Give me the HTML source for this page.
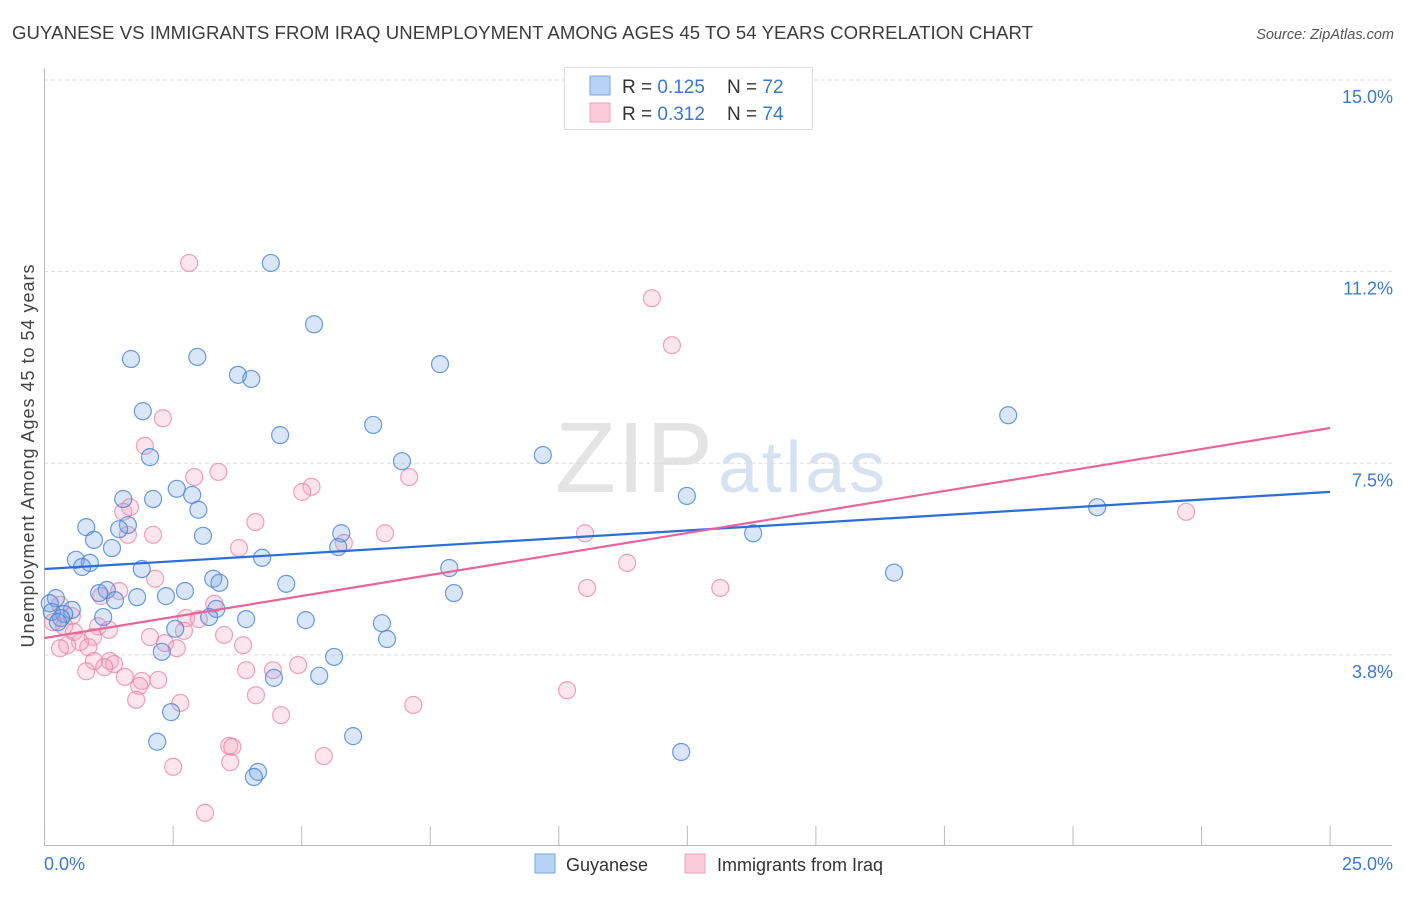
<!DOCTYPE html>
<html><head><meta charset="utf-8"><style>
body{margin:0;background:#fff;font-family:"Liberation Sans",sans-serif;}
svg text{font-family:"Liberation Sans",sans-serif;}
</style></head><body>
<svg id="c" width="1406" height="892">
<text x="12" y="39" font-size="18.6" fill="#3c3c3c" textLength="1021">GUYANESE VS IMMIGRANTS FROM IRAQ UNEMPLOYMENT AMONG AGES 45 TO 54 YEARS CORRELATION CHART</text>
<text x="1394" y="39" font-size="14.5" fill="#555" font-style="italic" text-anchor="end">Source: ZipAtlas.com</text>
<text x="555" y="492" font-size="100" fill="#e4e4e4" font-family="Liberation Serif" textLength="158">ZIP</text>
<text x="718" y="492" font-size="72" fill="#d6e2f2" textLength="167">atlas</text>
<g id="grid"></g>
<g id="axes"></g>
<g id="pts"></g>
<g id="trends"></g>
<text transform="translate(34,456) rotate(-90)" font-size="18" fill="#444" text-anchor="middle" textLength="383">Unemployment Among Ages 45 to 54 years</text>
<g>
<rect x="564.5" y="67.5" width="248" height="62" fill="#fff" stroke="#ddd"/>
<rect x="590" y="76" width="20" height="19" fill="#b8d3f5" stroke="#7aa6e0"/>
<rect x="590" y="103" width="20" height="19" fill="#fccbd8" stroke="#f0a0bb"/>
<text x="622" y="93" font-size="19" fill="#333">R = <tspan fill="#3a78d6">0.125</tspan></text>
<text x="727" y="93" font-size="19" fill="#333">N = <tspan fill="#3a78d6">72</tspan></text>
<text x="622" y="120" font-size="19" fill="#333">R = <tspan fill="#3a78d6">0.312</tspan></text>
<text x="727" y="120" font-size="19" fill="#333">N = <tspan fill="#3a78d6">74</tspan></text>
</g>
<g>
<rect x="535" y="854" width="20" height="19" fill="#b8d3f5" stroke="#7aa6e0"/>
<text x="566" y="871" font-size="18" fill="#333">Guyanese</text>
<rect x="685" y="854" width="20" height="19" fill="#fccbd8" stroke="#f0a0bb"/>
<text x="717" y="871" font-size="18" fill="#333">Immigrants from Iraq</text>
</g>
</svg>
<script>
const yTicks=[15.0,11.25,7.5,3.75];
const yTickLabels=["15.0%","11.2%","7.5%","3.8%"];
const xTicks=[0,2.5,5,7.5,10,12.5,15,17.5,20,22.5,25];
const xEndLabels=["0.0%","25.0%"];
const blueX=[4.40,5.24,1.68,2.97,3.76,4.02,7.69,1.91,4.58,6.39,2.05,6.95,9.69,18.74,1.53,2.11,2.57,2.87,2.99,12.49,20.47,0.81,1.62,1.45,0.96,1.31,3.08,5.77,5.71,13.78,4.23,0.61,0.88,0.73,1.89,7.87,16.52,3.28,3.40,4.70,2.73,2.36,1.80,1.21,1.06,1.37,7.96,0.22,0.10,0.53,0.38,0.14,0.32,0.26,1.14,3.34,3.20,3.92,5.08,6.56,2.54,6.66,2.28,5.63,5.34,4.46,2.46,2.19,6.00,12.38,4.15,4.07];
const blueY=[11.42,10.22,9.54,9.58,9.23,9.15,9.44,8.52,8.05,8.25,7.62,7.54,7.66,8.44,6.80,6.80,7.00,6.88,6.59,6.86,6.64,6.25,6.29,6.21,6.00,5.84,6.08,6.13,5.86,6.13,5.65,5.61,5.55,5.47,5.43,5.45,5.36,5.24,5.16,5.14,5.00,4.90,4.88,5.02,4.96,4.82,4.96,4.86,4.76,4.63,4.55,4.59,4.47,4.39,4.49,4.65,4.49,4.45,4.43,4.37,4.26,4.06,3.81,3.71,3.34,3.30,2.63,2.05,2.16,1.85,1.46,1.36];
const pinkX=[2.81,11.81,12.20,2.30,1.95,2.91,3.38,7.09,5.19,5.01,1.66,1.53,22.20,4.10,2.11,1.62,6.62,10.51,5.82,3.78,11.33,2.15,10.55,13.14,1.45,1.10,3.30,2.75,3.00,0.30,0.16,0.53,0.38,1.04,0.57,1.25,2.71,3.49,2.05,0.94,0.69,0.44,0.30,0.85,2.34,2.57,3.86,1.27,0.96,1.35,1.16,0.81,3.92,4.44,4.93,1.56,1.89,2.21,1.84,4.11,10.16,1.78,2.64,7.17,4.60,3.59,3.65,3.61,5.43,2.50,3.12];
const pinkY=[11.42,10.73,9.81,8.38,7.84,7.23,7.33,7.23,7.04,6.94,6.64,6.55,6.55,6.35,6.10,6.10,6.13,6.13,5.94,5.84,5.55,5.24,5.06,5.06,5.00,4.90,4.75,4.47,4.45,4.73,4.39,4.51,4.31,4.31,4.20,4.24,4.22,4.14,4.10,4.10,4.00,3.94,3.88,3.90,3.98,3.88,3.94,3.63,3.63,3.57,3.51,3.43,3.45,3.45,3.55,3.32,3.24,3.26,3.14,2.96,3.06,2.87,2.81,2.77,2.57,1.97,1.95,1.65,1.77,1.56,0.66];
const blueTrend=[5.43,6.94];
const pinkTrend=[4.08,8.19];
const NS="http://www.w3.org/2000/svg";
const X=v=>44.6+v*51.42;
const Y=v=>80+(15-v)*51.1;
function mk(tag,attrs,parent){const e=document.createElementNS(NS,tag);for(const k in attrs)e.setAttribute(k,attrs[k]);document.getElementById(parent).appendChild(e);return e;}
yTicks.forEach((t,i)=>{
 const g=mk('line',{x1:44,x2:1392,y1:Y(t),y2:Y(t),stroke:'#ddd','stroke-dasharray':'4,3'},'grid');
 
 
 const l=mk('text',{x:1393,y:Y(t)+23,'font-size':18,fill:'#3a78d6','text-anchor':'end'},'grid');
 l.textContent=yTickLabels[i];
 
 
});
const ax=mk('line',{x1:44.5,x2:44.5,y1:68,y2:845,stroke:'#bbb'},'axes');


const bx=mk('line',{x1:44,x2:1392,y1:845.5,y2:845.5,stroke:'#bbb'},'axes');


xTicks.forEach(t=>{
 const tk=mk('line',{x1:X(t),x2:X(t),y1:826,y2:845,stroke:'#bbb'},'axes');
 
 
});
[[0,'start',44],[25,'end',1393]].forEach((a,i)=>{
 const l=mk('text',{x:a[2],y:870,'font-size':18,fill:'#3a78d6','text-anchor':a[1]},'axes');
 l.textContent=xEndLabels[i];
 
 
});
function pts(xs,ys,fill,stroke,name){
 xs.forEach((x,i)=>{
  const c=mk('circle',{cx:X(x),cy:Y(ys[i]),r:8.5,fill:fill,stroke:stroke,'stroke-width':1.2},'pts');
  
  
 });
}
pts(pinkX,pinkY,'rgba(246,160,185,0.28)','rgba(236,130,165,0.75)','iraq-point');
pts(blueX,blueY,'rgba(120,165,230,0.28)','rgba(70,130,215,0.8)','guyanese-point');
const tb=mk('line',{x1:X(0),y1:Y(blueTrend[0]),x2:X(25),y2:Y(blueTrend[1]),stroke:'#2a6fd6','stroke-width':2.2},'trends');


const tp=mk('line',{x1:X(0),y1:Y(pinkTrend[0]),x2:X(25),y2:Y(pinkTrend[1]),stroke:'#e8649a','stroke-width':2.2},'trends');


</script>
</body></html>
